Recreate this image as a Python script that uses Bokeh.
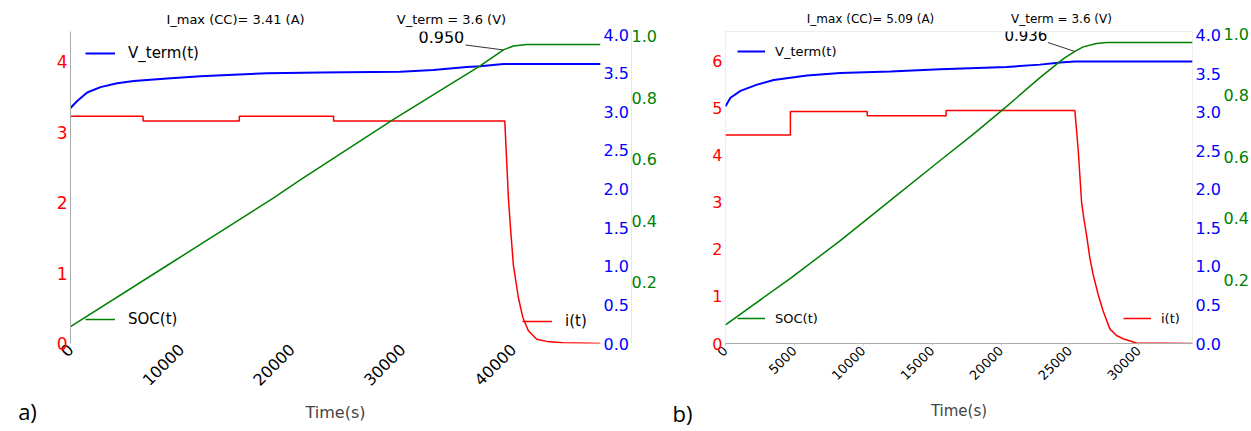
import math
from bokeh.plotting import figure
from bokeh.models import (Range1d, LinearAxis, FixedTicker, Label, Legend, LegendItem,
                          PrintfTickFormatter)
from bokeh.layouts import row
from bokeh.embed import file_html
from bokeh.resources import INLINE

# ---------------- Panel a) data ----------------
a_i_time = [0, 6560, 6560, 15260, 15260, 23775, 23775, 39250, 39580, 39790, 40030,
            40480, 40880, 41380, 42140, 43040, 44500, 47900]
a_current = [3.23, 3.23, 3.16, 3.16, 3.23, 3.23, 3.16, 3.16, 2.06, 1.59, 1.11,
             0.65, 0.37, 0.18, 0.06, 0.03, 0.01, 0.0]
a_v_time = [0, 605, 1508, 2709, 4217, 5716, 8731, 11738, 14718, 17761, 22573,
            29797, 32777, 35820, 37020, 39124, 47900]
a_voltage = [3.05, 3.14, 3.25, 3.32, 3.37, 3.40, 3.43, 3.46, 3.48, 3.50, 3.51,
             3.52, 3.54, 3.58, 3.59, 3.62, 3.62]
a_soc_time = [0, 8731, 18357, 20767, 29192, 37020, 39124, 40027, 41237, 47900]
a_soc = [0.055, 0.254, 0.474, 0.533, 0.730, 0.904, 0.956, 0.969, 0.974, 0.974]
a_knee_index = 6
a_knee_text = "0.950"
a_imax_text = "I_max (CC)= 3.41 (A)"
a_vterm_text = "V_term = 3.6 (V)"
a_time_ticks = [0, 10000, 20000, 30000, 40000]
a_i_ticks = [0, 1, 2, 3, 4]

# ---------------- Panel b) data ----------------
b_i_time = [0, 4710, 4710, 10290, 10290, 16014, 16014, 25362, 25600, 25848, 26014,
            26210, 26449, 26688, 27051, 27413, 27899, 28384, 28862, 29833, 33900]
b_current = [4.42, 4.42, 4.92, 4.92, 4.83, 4.83, 4.94, 4.94, 4.12, 3.00, 2.65,
             2.30, 1.81, 1.46, 1.04, 0.69, 0.31, 0.17, 0.10, 0.01, 0.0]
b_v_time = [0, 362, 1087, 2295, 3502, 5918, 8333, 11957, 15580, 20413, 22826,
            24514, 25362, 33900]
b_voltage = [3.08, 3.19, 3.28, 3.36, 3.42, 3.48, 3.51, 3.53, 3.56, 3.59, 3.62,
             3.65, 3.66, 3.66]
b_soc_time = [0, 4710, 8333, 12195, 15580, 17995, 20413, 22826, 24514, 25362,
              25966, 26935, 27660, 33900]
b_soc = [0.053, 0.204, 0.327, 0.466, 0.588, 0.674, 0.764, 0.858, 0.919, 0.943,
         0.958, 0.969, 0.972, 0.972]
b_knee_index = 9
b_knee_text = "0.936"
b_imax_text = "I_max (CC)= 5.09 (A)"
b_vterm_text = "V_term = 3.6 (V)"
b_time_ticks = [0, 5000, 10000, 15000, 20000, 25000, 30000]
b_i_ticks = [0, 1, 2, 3, 4, 5, 6]

v_ticks = [0.0, 0.5, 1.0, 1.5, 2.0, 2.5, 3.0, 3.5, 4.0]
soc_ticks = [0.2, 0.4, 0.6, 0.8, 1.0]

FONT = "DejaVu Sans"
RED = "#ff0000"
BLUE = "#0000ff"
GREEN = "#008000"


def plain_axis(ax):
    ax.major_tick_in = 0
    ax.major_tick_out = 0
    ax.minor_tick_in = 0
    ax.minor_tick_out = 0
    ax.major_tick_line_color = None
    ax.minor_tick_line_color = None


def make_panel(cfg):
    p = figure(width=cfg["width"], height=431,
               x_range=Range1d(0, cfg["xmax"]), y_range=Range1d(0, cfg["imax"]),
               output_backend="svg", toolbar_location=None,
               min_border_left=cfg["left"], min_border_right=cfg["right"],
               min_border_top=cfg["top"], min_border_bottom=cfg["bottom"])
    p.grid.visible = False
    p.outline_line_color = cfg["outline"]
    p.background_fill_color = "white"
    p.border_fill_color = "white"
    p.extra_y_ranges = {"v": Range1d(*cfg["vrange"]), "soc": Range1d(*cfg["socrange"])}

    # left (current) axis
    ya = p.yaxis[0]
    plain_axis(ya)
    ya.ticker = FixedTicker(ticks=cfg["i_ticks"])
    ya.major_label_text_color = RED
    ya.major_label_text_font = FONT
    ya.major_label_text_font_size = cfg["red_fs"]
    ya.axis_line_color = cfg["left_line"]
    ya.major_label_standoff = 3

    # bottom (time) axis
    xa = p.xaxis[0]
    plain_axis(xa)
    xa.ticker = FixedTicker(ticks=cfg["time_ticks"])
    xa.major_label_orientation = math.pi / 4
    xa.major_label_text_font = FONT
    xa.major_label_text_font_size = cfg["x_fs"]
    xa.major_label_text_color = "black"
    xa.axis_line_color = cfg["bottom_line"]
    if cfg["bottom_tick"]:
        xa.major_tick_line_color = cfg["bottom_tick"]
        xa.major_tick_out = 2
    xa.major_label_standoff = 3
    xa.axis_label = "Time(s)"
    xa.axis_label_text_font = FONT
    xa.axis_label_text_font_style = "normal"
    xa.axis_label_text_font_size = cfg["axlabel_fs"]
    xa.axis_label_standoff = cfg["axlabel_standoff"]

    # voltage axis (right, first)
    va = LinearAxis(y_range_name="v", ticker=FixedTicker(ticks=v_ticks),
                    formatter=PrintfTickFormatter(format="%.1f"))
    plain_axis(va)
    va.major_label_text_color = BLUE
    va.major_label_text_font = FONT
    va.major_label_text_font_size = "16px"
    va.axis_line_color = None
    va.major_label_standoff = 3
    p.add_layout(va, "right")

    # SOC axis (right, second)
    sa = LinearAxis(y_range_name="soc", ticker=FixedTicker(ticks=soc_ticks),
                    formatter=PrintfTickFormatter(format="%.1f"))
    plain_axis(sa)
    sa.major_label_text_color = GREEN
    sa.major_label_text_font = FONT
    sa.major_label_text_font_size = "16px"
    sa.axis_line_color = cfg["soc_line"]
    sa.major_label_standoff = 0
    p.add_layout(sa, "right")

    r_v = p.line(cfg["v_t"], cfg["v"], y_range_name="v", line_color=BLUE, line_width=2)
    r_i = p.line(cfg["i_t"], cfg["i"], line_color=RED, line_width=1.5)
    r_s = p.line(cfg["s_t"], cfg["s"], y_range_name="soc", line_color=GREEN, line_width=1.5)

    def add_legend(label, rend, loc):
        lg = Legend(items=[LegendItem(label=label, renderers=[rend])], location=loc,
                    background_fill_alpha=0, border_line_color=None, padding=0, margin=0,
                    spacing=0, glyph_width=cfg["glyph_w"], glyph_height=20,
                    label_standoff=cfg["leg_standoff"], label_height=20,
                    label_text_font=FONT, label_text_font_size=cfg["leg_fs"],
                    label_text_color="black")
        p.add_layout(lg)

    add_legend("V_term(t)", r_v, cfg["leg_v"])
    add_legend("SOC(t)", r_s, cfg["leg_s"])
    add_legend("i(t)", r_i, cfg["leg_i"])

    # knee annotation: leader line and value text
    k = cfg["knee"]
    kt, ks = cfg["s_t"][k], cfg["s"][k]
    px_x = cfg["frame_w"] / cfg["xmax"]
    px_y = cfg["frame_h"] / (cfg["socrange"][1] - cfg["socrange"][0])
    ldx, ldy = cfg["leader"]
    p.segment(x0=[kt + ldx / px_x], y0=[ks + ldy / px_y], x1=[kt], y1=[ks],
              y_range_name="soc", line_color="#333333", line_width=1)
    ox, oy = cfg["knee_off"]
    p.add_layout(Label(x=kt, y=ks, y_range_name="soc", x_offset=ox, y_offset=oy,
                       text=cfg["knee_text"], text_align="center", text_baseline="middle",
                       text_font=FONT, text_font_size=cfg["knee_fs"], text_color="black"))

    # texts above the frame
    for (txt, (sx, sy)) in [(cfg["imax_text"], cfg["imax_pos"]), (cfg["vterm_text"], cfg["vterm_pos"])]:
        p.add_layout(Label(x=sx, y=sy, x_units="screen", y_units="screen", text=txt,
                           text_align="center", text_baseline="middle", text_font=FONT,
                           text_font_size=cfg["top_fs"], text_color="black"), "above")
    # panel tag
    lx, ly = cfg["tag_pos"]
    p.add_layout(Label(x=lx, y=ly, x_units="screen", y_units="screen", text=cfg["tag"],
                       text_align="center", text_baseline="middle", text_font="Open Sans",
                       text_font_size="22px", text_color="black"), "left")
    return p


cfg_a = dict(width=660, left=70, right=60, top=31, bottom=85, frame_w=530, frame_h=315,
             xmax=47900, imax=4.433, vrange=(0, 4.04), socrange=(0, 1.016),
             i_ticks=a_i_ticks, time_ticks=a_time_ticks, red_fs="17px", x_fs="16px",
             axlabel_fs="16px", axlabel_standoff=9, outline=None,
             left_line="#aaaaaa", bottom_line=None, bottom_tick=None, soc_line="#e6e6e6",
             v_t=a_v_time, v=a_voltage, i_t=a_i_time, i=a_current, s_t=a_soc_time, s=a_soc,
             glyph_w=30, leg_standoff=13, leg_fs="15px",
             leg_v=(15, 280), leg_s=(15, 14), leg_i=(452, 12),
             knee=a_knee_index, knee_text=a_knee_text, leader=(-38, 5), knee_off=(-62, 13),
             knee_fs="16px", imax_text=a_imax_text, vterm_text=a_vterm_text,
             imax_pos=(165, 12), vterm_pos=(381, -3), top_fs="13px",
             tag="a)", tag_pos=(-7, -67))

cfg_b = dict(width=591, left=65, right=58, top=28, bottom=88, frame_w=468, frame_h=315,
             xmax=33900, imax=6.617, vrange=(0, 4.05), socrange=(-0.008, 1.008),
             i_ticks=b_i_ticks, time_ticks=b_time_ticks, red_fs="16px", x_fs="13px",
             axlabel_fs="15px", axlabel_standoff=15, outline="#eeeeee",
             left_line=None, bottom_line="#aaaaaa", bottom_tick="#cccccc", soc_line=None,
             v_t=b_v_time, v=b_voltage, i_t=b_i_time, i=b_current, s_t=b_soc_time, s=b_soc,
             glyph_w=28, leg_standoff=10, leg_fs="13px",
             leg_v=(12, 282), leg_s=(12, 15), leg_i=(398, 15),
             knee=b_knee_index, knee_text=b_knee_text, leader=(-27, 9), knee_off=(-49, 16),
             knee_fs="15px", imax_text=b_imax_text, vterm_text=b_vterm_text,
             imax_pos=(145, 13), vterm_pos=(336, -1), top_fs="12px",
             tag="b)", tag_pos=(-7, -69))

pa = make_panel(cfg_a)
pb = make_panel(cfg_b)
layout = row(pa, pb)
open("out.html", "w").write(file_html(layout, INLINE))
